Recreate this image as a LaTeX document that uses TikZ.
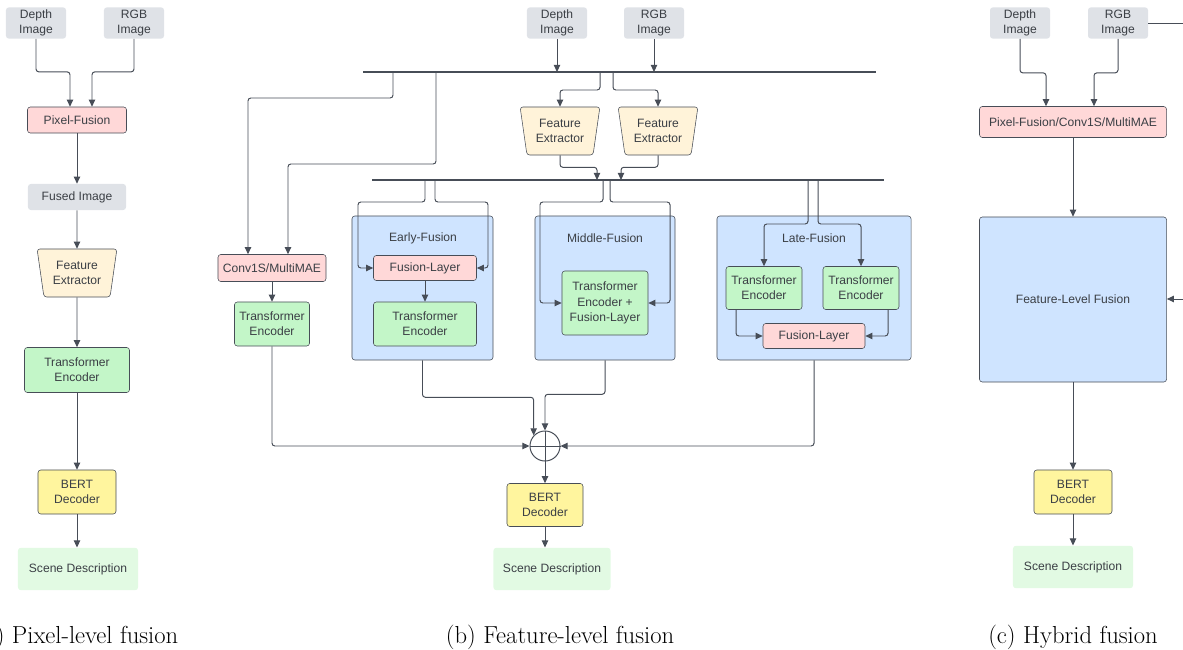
\documentclass[tikz,border=0pt]{standalone}
\usepackage{fontspec}
\setsansfont{Liberation Sans}
\usepackage{tikz}
\usetikzlibrary{arrows.meta, positioning, shapes.geometric, calc}

\definecolor{LineDark}{HTML}{474D57}
\definecolor{TextDark}{HTML}{3B3F45}
\definecolor{ImgGray}{HTML}{DFE2E7}
\definecolor{FusePink}{HTML}{FFD8D8}
\definecolor{FeatOrange}{HTML}{FFF3D9}
\definecolor{EncGreen}{HTML}{C3F6C8}
\definecolor{BertYellow}{HTML}{FFF59E}
\definecolor{SceneGreen}{HTML}{E2FAE3}
\definecolor{GroupBlue}{HTML}{CFE4FF}

\begin{document}
\begin{tikzpicture}[
        x=0.025cm, y=-0.025cm,
        base/.style={rounded corners=2pt, align=center, inner sep=0pt, text=TextDark, font=\sffamily\fontsize{8.6}{10.8}\selectfont},
        imgbox/.style={base, fill=ImgGray, minimum width=1.5cm, minimum height=0.78cm},
        fusebox/.style={base, draw=LineDark, fill=FusePink, minimum height=0.65cm},
        extractor/.style={base, trapezium, shape border rotate=180, trapezium angle=78, trapezium stretches=true, draw=LineDark, fill=FeatOrange, minimum width=2.0cm, minimum height=1.2cm},
        encbox/.style={base, draw=LineDark, fill=EncGreen, minimum width=1.9cm, minimum height=1.1cm},
        bertbox/.style={base, draw=LineDark, fill=BertYellow, minimum width=1.95cm, minimum height=1.1cm},
        scenebox/.style={base, fill=SceneGreen, minimum width=3.0cm, minimum height=1.06cm},
        groupbox/.style={base, draw=LineDark, fill=GroupBlue, minimum height=3.6cm},
        grouptitle/.style={base},
        caption/.style={font=\fontsize{17.5}{21}\selectfont},
        conn/.style={draw=LineDark, line width=0.7pt, rounded corners=2pt, -{Triangle[length=5pt, width=4.5pt]}},
        wire/.style={draw=LineDark, line width=0.7pt, rounded corners=2pt},
        bus/.style={draw=LineDark, line width=1.4pt}
    ]
        \useasboundingbox (0,0) rectangle (1183,650);

        % (a) Pixel-level fusion
        \node[imgbox] (depthA) at (36,23) {Depth\\Image};
        \node[imgbox] (rgbA) at (134,23) {RGB\\Image};
        \node[fusebox, minimum width=2.475cm] (pixA) at (77,120) {Pixel-Fusion};
        \node[imgbox, minimum width=2.45cm, minimum height=0.65cm] (fusedA) at (77,197) {Fused Image};
        \node[extractor] (featA) at (77,273) {Feature\\Extractor};
        \node[encbox, minimum width=2.625cm, minimum height=1.125cm] (encA) at (77,370) {Transformer\\Encoder};
        \node[bertbox] (bertA) at (77,492) {BERT\\Decoder};
        \node[scenebox] (sceneA) at (78,569) {Scene Description};
        \node[caption] (capA) at (77,637) {(a)\ Pixel-level fusion};

        \draw[conn] (depthA.south) -- ++(0,33) -| ($(pixA.north)+(-7,0)$);
        \draw[conn] (rgbA.south) -- ++(0,33) -| ($(pixA.north)+(15,0)$);
        \draw[conn] (pixA) -- (fusedA);
        \draw[conn] (fusedA) -- (featA);
        \draw[conn] (featA) -- (encA);
        \draw[conn] (encA) -- (bertA);
        \draw[conn] (bertA) -- (bertA |- sceneA.north);

        % (b) Feature-level fusion
        \node[imgbox] (depthB) at (557,23) {Depth\\Image};
        \node[imgbox] (rgbB) at (654,23) {RGB\\Image};
        \coordinate (busL) at (363,72);
        \coordinate (busR) at (876,72);
        \node[extractor] (featB1) at (560,131) {Feature\\Extractor};
        \node[extractor] (featB2) at (658,131) {Feature\\Extractor};
        \coordinate (busM) at (372,180);
        \coordinate (busN) at (884,180);

        \node[fusebox, minimum width=2.7cm, minimum height=0.675cm] (convB) at (272,268) {Conv1S/MultiMAE};
        \node[encbox, minimum width=1.875cm] (encB) at (272,324) {Transformer\\Encoder};

        \node[groupbox, minimum width=3.525cm] (earlyG) at (422.5,288) {};
        \node[grouptitle] (earlyT) at (423,238) {Early-Fusion};
        \node[fusebox, minimum width=2.575cm, minimum height=0.625cm] (fuseE) at (425,268) {Fusion-Layer};
        \node[encbox, minimum width=2.575cm] (encE) at (425,324) {Transformer\\Encoder};

        \node[groupbox, minimum width=3.5cm] (middleG) at (605,288) {};
        \node[grouptitle] (middleT) at (605,238) {Middle-Fusion};
        \node[encbox, minimum width=2.15cm, minimum height=1.6cm] (encM) at (605,303) {Transformer\\Encoder +\\Fusion-Layer};

        \node[groupbox, minimum width=4.85cm] (lateG) at (814,288) {};
        \node[grouptitle] (lateT) at (814,238) {Late-Fusion};
        \node[encbox, minimum height=1.075cm] (encL1) at (764,288) {Transformer\\Encoder};
        \node[encbox, minimum height=1.075cm] (encL2) at (861,288) {Transformer\\Encoder};
        \node[fusebox, minimum width=2.55cm, minimum height=0.625cm] (fuseL) at (814,336) {Fusion-Layer};

        \node[circle, draw=LineDark, line width=0.7pt, minimum size=0.75cm, inner sep=0pt] (sum) at (545,446) {};
        \node[bertbox, minimum width=1.9cm, minimum height=1.075cm] (bertB) at (545,505) {BERT\\Decoder};
        \node[scenebox, minimum width=2.925cm] (sceneB) at (552,569) {Scene Description};
        \node[caption] (capB) at (560,637) {(b)\ Feature-level fusion};

        \draw[bus] (busL) -- (busR);
        \draw[bus] (busM) -- (busN);
        \draw[conn] (depthB) -- (depthB |- busL);
        \draw[conn] (rgbB) -- (rgbB |- busL);
        \draw[conn] (busL) ++(30,0) -- ++(0,26) -| ($(convB.north)+(-24,0)$);
        \draw[conn] (busL) ++(73,0) -- ++(0,92) -| ($(convB.north)+(16,0)$);
        \draw[conn] (busL) ++(237,0) -- ++(0,18) -| (featB1.north);
        \draw[conn] (busL) ++(250,0) -- ++(0,18) -| (featB2.north);
        \draw[conn] (featB1.south) -- ++(0,12) -| ($(busM)+(225,0)$);
        \draw[conn] (featB2.south) -- ++(0,12) -| ($(busM)+(249,0)$);

        \draw[conn] (busM) ++(53,0) -- ++(0,22) -- ++(-67,0) |- (fuseE.west);
        \draw[conn] (busM) ++(63,0) -- ++(0,22) -- ++(53,0) |- (fuseE.east);
        \draw[conn] (fuseE) -- (encE);
        \draw[conn] (busM) ++(231,0) -- ++(0,22) -- ++(-63,0) |- (encM.west);
        \draw[conn] (busM) ++(238,0) -- ++(0,22) -- ++(60,0) |- (encM.east);
        \draw[conn] (busM) ++(436,0) -- ++(0,44) -| (encL1.north);
        \draw[conn] (busM) ++(446,0) -- ++(0,44) -| (encL2.north);
        \draw[conn] ($(encL1.south)+(-28,0)$) |- (fuseL.west);
        \draw[conn] ($(encL2.south)+(27,0)$) |- (fuseL.east);
        \draw[conn] (convB) -- (encB);

        \draw[conn] (encB.south) |- (sum.west);
        \draw[conn] (lateG.south) |- (sum.east);
        \draw[conn] (earlyG.south) -- ++(0,37) -| (sum.137);
        \draw[conn] (middleG.south) -- ++(0,34) -| (sum.north);
        \draw[wire] (sum.north) -- (sum.south);
        \draw[wire] (sum.west) -- (sum.east);
        \draw[conn] (sum) -- (bertB);
        \draw[conn] (bertB) -- (bertB |- sceneB.north);

        % (c) Hybrid fusion
        \node[imgbox] (depthC) at (1020,23) {Depth\\Image};
        \node[imgbox] (rgbC) at (1118,23) {RGB\\Image};
        \node[fusebox, minimum width=4.675cm, minimum height=0.775cm] (pixC) at (1073,122) {Pixel-Fusion/Conv1S/MultiMAE};
        \node[groupbox, minimum width=4.675cm, minimum height=4.125cm] (flfC) at (1073,299.5) {Feature-Level Fusion};
        \node[bertbox] (bertC) at (1073,492) {BERT\\Decoder};
        \node[scenebox] (sceneC) at (1073,567) {Scene Description};
        \node[caption] (capC) at (1073,637) {(c)\ Hybrid fusion};
        \coordinate (outR) at (1195,23);
        \coordinate (inR) at (1195,299);

        \draw[conn] (depthC.south) -- ++(0,34) -| ($(pixC.north)+(-27,0)$);
        \draw[conn] (rgbC.south) -- ++(0,34) -| ($(pixC.north)+(21,0)$);
        \draw[conn] (pixC) -- (flfC);
        \draw[conn] (flfC) -- (bertC);
        \draw[conn] (bertC) -- (sceneC);
        \draw[wire] (rgbC.east) -- (outR);
        \draw[conn] (inR) -- (inR -| flfC.east);
    \end{tikzpicture}
\end{document}
